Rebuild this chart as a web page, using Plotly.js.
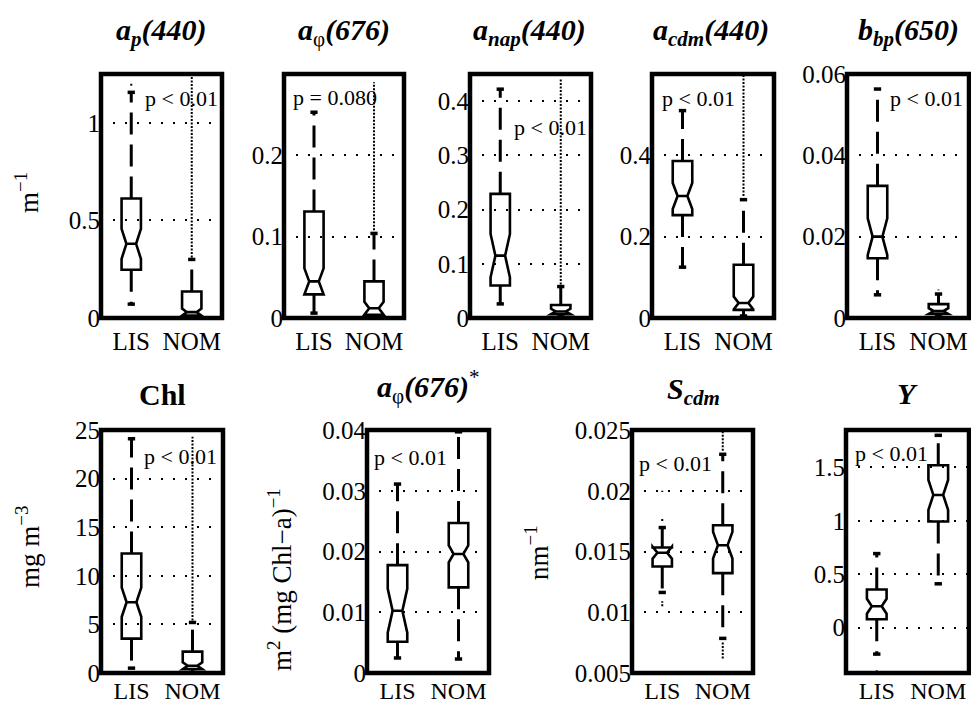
<!DOCTYPE html>
<html>
<head>
<meta charset="utf-8">
<script src="https://cdn.plot.ly/plotly-3.0.1.min.js"></script>
<style>html,body{margin:0;padding:0;background:#fff;}#chart{width:971px;height:708px;}</style>
</head>
<body>
<div id="chart"></div>
<script>
// ---------- DATA ----------
const groups = ['LIS', 'NOM'];
const titles = [
  '<b><i>a<sub>p</sub>(440)</i></b>',
  '<b><i>a</i></b><sub>φ</sub><b><i>(676)</i></b>',
  '<b><i>a<sub>nap</sub>(440)</i></b>',
  '<b><i>a<sub>cdm</sub>(440)</i></b>',
  '<b><i>b<sub>bp</sub>(650)</i></b>',
  '<b>Chl</b>',
  '<b><i>a</i></b><sub>φ</sub><b><i>(676)</i></b><sup>*</sup>',
  '<b><i>S<sub>cdm</sub></i></b>',
  '<b><i>Y</i></b>'
];
const pTexts = ['p < 0.01','p = 0.080','p < 0.01','p < 0.01','p < 0.01','p < 0.01','p < 0.01','p < 0.01','p < 0.01'];

// LIS statistics (lower whisker, Q1, median, Q3, upper whisker, notch half-span)
const lisLo    = [0.071, 0.006, 0.026, 0.125, 0.0057, 0.5,  0.00247, 0.01163, -0.248];
const lisQ1    = [0.247, 0.029, 0.060, 0.253, 0.0147, 3.54, 0.00515, 0.01377,  0.078];
const lisMed   = [0.380, 0.045, 0.115, 0.300, 0.0200, 7.28, 0.01025, 0.01490,  0.200];
const lisQ3    = [0.612, 0.131, 0.229, 0.386, 0.0325, 12.3, 0.01775, 0.01533,  0.357];
const lisHi    = [1.156, 0.253, 0.422, 0.510, 0.0563, 24.1, 0.0311,  0.01697,  0.693];
const lisNotch = [0.077, 0.016, 0.040, 0.032, 0.0045, 1.5,  0.0036,  0.0005,   0.070];
// NOM statistics
const nomLo    = [0.003, 0.002, 0.002, 0.005, 0.0003, 0.05, 0.0023,  0.00785,  0.41];
const nomQ1    = [0.012, 0.004, 0.007, 0.020, 0.0010, 0.40, 0.0141,  0.01322,  0.994];
const nomMed   = [0.030, 0.012, 0.012, 0.037, 0.0017, 0.75, 0.0196,  0.01552,  1.242];
const nomQ3    = [0.136, 0.045, 0.024, 0.131, 0.0034, 2.2,  0.0247,  0.01716,  1.52];
const nomHi    = [0.300, 0.104, 0.058, 0.291, 0.0059, 5.2,  0.0397,  0.0230,   1.80];
const nomNotch = [0.018, 0.008, 0.005, 0.016, 0.0007, 0.35, 0.0014,  0.0011,   0.14];
// Outlier spans (dense '+' markers), [low, high]
const lisOut = [[[1.19,1.20]], [], [], [], [], [], [],
                [[0.0175,0.0178],[0.0199,0.0200],[0.0105,0.0109]], [[-0.41,-0.40]]];
const nomOut = [[[0.31,1.24]], [[0.108,0.29]], [[0.062,0.44]], [[0.30,0.60]], [[0.0068,0.0070]],
                [[5.4,24.3]], [], [[0.0233,0.0249],[0.0062,0.0076]], []];

// Axis ticks
const yTickVals = [[0,0.5,1],[0,0.1,0.2],[0,0.1,0.2,0.3,0.4],[0,0.2,0.4],[0,0.02,0.04,0.06],
                   [0,5,10,15,20,25],[0,0.01,0.02,0.03,0.04],[0.005,0.01,0.015,0.02,0.025],[0,0.5,1,1.5]];
const yTickText = [['0','0.5','1'],['0','0.1','0.2'],['0','0.1','0.2','0.3','0.4'],['0','0.2','0.4'],
                   ['0','0.02','0.04','0.06'],['0','5','10','15','20','25'],['0','0.01','0.02','0.03','0.04'],
                   ['0.005','0.01','0.015','0.02','0.025'],['0','0.5','1','1.5']];
const yRanges = [[0,1.25],[0,0.3],[0,0.45],[0,0.6],[0,0.06],[0,25],[0,0.04],[0.005,0.025],[-0.425,1.85]];
const yLabels = ['m<sup>−1</sup>', null, null, null, null, 'mg m<sup>−3</sup>',
                 'm<sup>2</sup> (mg Chl−a)<sup>−1</sup>', 'nm<sup>−1</sup>', null];

// ---------- LAYOUT GEOMETRY (pixels) ----------
const W = 971, H = 708;
const px = [[101,222],[284,404],[470,591],[652,774],[847,969],[101,223],[367,489],[632,753],[846,969]];
const py = [[74,318],[74,318],[74,318],[74,318],[74,318],[430,673],[430,673],[430,673],[430,673]];
const pPos = [[0.35,0.90],[0.06,0.905],[0.35,0.78],[0.066,0.90],[0.34,0.90],[0.34,0.89],[0.04,0.885],[0.04,0.864],[0.06,0.905]];
const titlePos = [[161,53],[344,53],[529,53],[711,53],[908,53],[162,413],[428,410],[693,412],[907,412]];
const yLabelPos = [[27,193],null,null,null,null,[28,547],[280,580],[537,553],null];

const FONT = 'Liberation Serif, Times New Roman, serif';
const CAP = 0.06;
const positions = [1, 2];

const traces = [];
const layout = {
  width: W, height: H,
  margin: {l:0, r:0, t:0, b:0},
  paper_bgcolor: '#fff', plot_bgcolor: '#fff',
  showlegend: false,
  font: {family: FONT, color: '#000', size: 24},
  shapes: [], annotations: []
};

for (let i = 0; i < 9; i++) {
  const s = i === 0 ? '' : String(i + 1);
  const xa = 'x' + s, ya = 'y' + s;
  const q1 = [lisQ1[i], nomQ1[i]], md = [lisMed[i], nomMed[i]], q3 = [lisQ3[i], nomQ3[i]];
  const lo = [lisLo[i], nomLo[i]], hi = [lisHi[i], nomHi[i]];
  const nt = [lisNotch[i], nomNotch[i]];
  const outs = [lisOut[i], nomOut[i]];

  // outliers (drawn first, under everything)
  const ox = [], oy = [];
  positions.forEach((p, g) => outs[g].forEach(seg => { ox.push(p, p, null); oy.push(seg[0], seg[1], null); }));
  if (ox.length) traces.push({type:'scatter', mode:'lines', x: ox, y: oy, xaxis: xa, yaxis: ya,
    line: {color:'#000', width: 2, dash: '2px,1.5px'}, hoverinfo: 'skip'});

  // whiskers (dashed)
  const wx = [], wy = [];
  positions.forEach((p, g) => { wx.push(p, p, null, p, p, null); wy.push(q3[g], hi[g], null, q1[g], lo[g], null); });
  traces.push({type:'scatter', mode:'lines', x: wx, y: wy, xaxis: xa, yaxis: ya,
    line: {color:'#000', width: 3, dash: '22px,10px'}, hoverinfo: 'skip'});

  // whisker caps
  const cx = [], cy = [];
  positions.forEach((p, g) => { cx.push(p - CAP, p + CAP, null, p - CAP, p + CAP, null); cy.push(hi[g], hi[g], null, lo[g], lo[g], null); });
  traces.push({type:'scatter', mode:'lines', x: cx, y: cy, xaxis: xa, yaxis: ya,
    line: {color:'#000', width: 3.5}, hoverinfo: 'skip'});

  // notched boxes
  traces.push({type:'box', x: positions, q1: q1, median: md, q3: q3, lowerfence: q1, upperfence: q3,
    notchspan: nt, notched: true, notchwidth: 0.25, width: 0.32, whiskerwidth: 0, boxpoints: false,
    line: {color:'#000', width: 2.6}, fillcolor: 'rgba(0,0,0,0)', xaxis: xa, yaxis: ya, hoverinfo: 'skip'});

  const xd = [px[i][0] / W, px[i][1] / W];
  const yd = [1 - py[i][1] / H, 1 - py[i][0] / H];
  layout['xaxis' + s] = {domain: xd, anchor: ya, range: [0.5, 2.5], tickvals: positions, ticktext: groups,
    ticks: '', showgrid: false, zeroline: false, showline: false, fixedrange: true,
    ticklabelstandoff: i < 5 ? 6 : 1,
    tickfont: {family: FONT, size: i < 5 ? 25 : 24, color: '#000'}};
  layout['yaxis' + s] = {domain: yd, anchor: xa, range: yRanges[i], tickvals: yTickVals[i], ticktext: yTickText[i],
    ticks: '', showgrid: true, gridcolor: '#000', gridwidth: 2, griddash: '2px,10px', zeroline: false, showline: false,
    fixedrange: true, tickfont: {family: FONT, size: 25, color: '#000'}};

  layout.shapes.push({type:'rect', xref: xa + ' domain', yref: ya + ' domain', x0: 0, x1: 1, y0: 0, y1: 1,
    line: {color:'#000', width: 4.5}, layer: 'above'});

  layout.annotations.push({text: pTexts[i], xref: xa + ' domain', yref: ya + ' domain', x: pPos[i][0], y: pPos[i][1],
    xanchor: 'left', yanchor: 'middle', showarrow: false, font: {family: FONT, size: 22, color: '#000'}});

  layout.annotations.push({text: titles[i], xref: 'paper', yref: 'paper', x: titlePos[i][0] / W, y: 1 - titlePos[i][1] / H,
    xanchor: 'center', yanchor: 'bottom', showarrow: false, font: {family: FONT, size: 30, color: '#000'}});

  if (yLabels[i]) {
    layout.annotations.push({text: yLabels[i], xref: 'paper', yref: 'paper', x: yLabelPos[i][0] / W, y: 1 - yLabelPos[i][1] / H,
      xanchor: 'center', yanchor: 'middle', textangle: -90, showarrow: false, font: {family: FONT, size: 27, color: '#000'}});
  }
}

Plotly.newPlot('chart', traces, layout, {displayModeBar: false, staticPlot: true});
</script>
</body>
</html>
